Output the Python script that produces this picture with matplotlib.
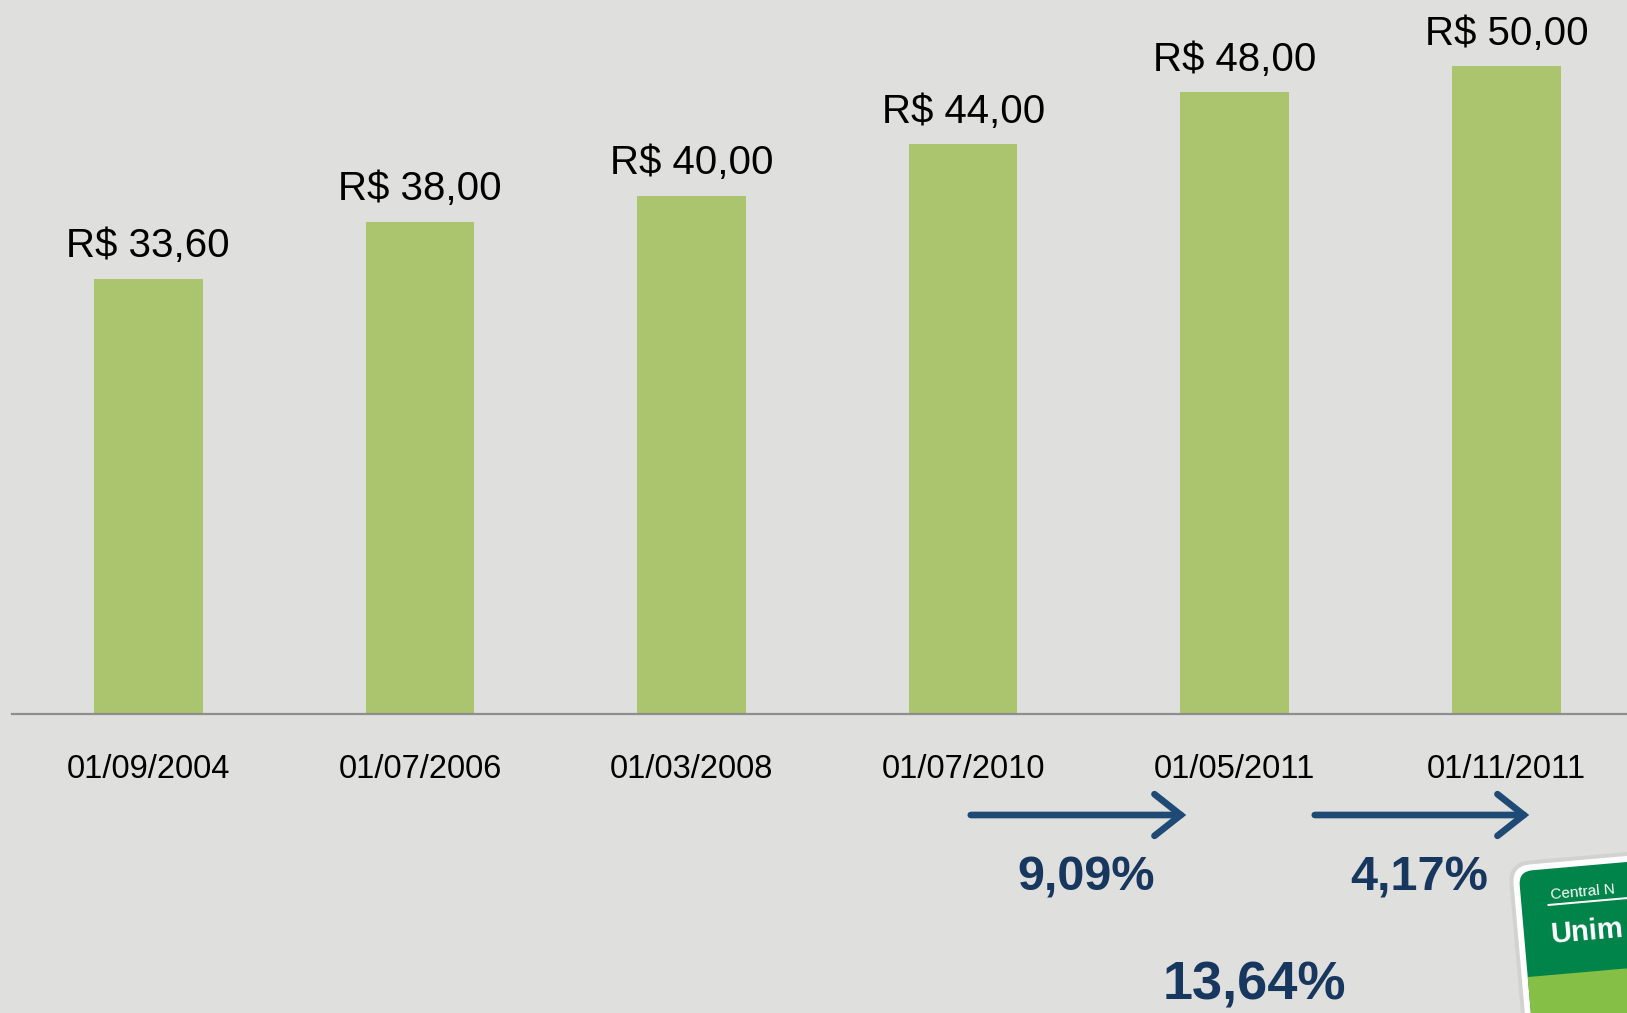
import matplotlib.pyplot as plt
from matplotlib.patches import FancyArrowPatch, FancyBboxPatch, Rectangle
from matplotlib.transforms import Affine2D

plt.rcParams['font.family'] = ['Liberation Sans', 'DejaVu Sans']

# values
dates = ["01/09/2004", "01/07/2006", "01/03/2008", "01/07/2010", "01/05/2011", "01/11/2011"]
prices = [33.60, 38.00, 40.00, 44.00, 48.00, 50.00]
price_labels = ["R$ 33,60", "R$ 38,00", "R$ 40,00", "R$ 44,00", "R$ 48,00", "R$ 50,00"]
step_changes = ["9,09%", "4,17%"]
total_change = "13,64%"

bg = "#dfdfdd"
bar_color = "#abc56e"
navy = "#1f4a75"
navy_text = "#17375e"

W, H = 1627, 1013
fig = plt.figure(figsize=(W / 100, H / 100), dpi=100, facecolor=bg)

ax = fig.add_axes([12.45 / W, (H - 714) / H, 1 - 12.45 / W, 714 / H])
ax.set_facecolor(bg)
x = list(range(len(prices)))
bars = ax.bar(x, prices, width=0.40, color=bar_color, zorder=2)
ax.set_xlim(-0.5, 5.444)
ax.set_ylim(0, 55.13)
for b, lab in zip(bars, price_labels):
    ax.annotate(lab, (b.get_x() + b.get_width() / 2, b.get_height()),
                xytext=(0, 15.5), textcoords="offset points",
                ha="center", va="baseline", fontsize=29, color="black")

ax.set_xticks(x)
ax.set_xticklabels(dates, fontsize=23.5)
ax.tick_params(axis="x", length=0, pad=29)
ax.set_yticks([])
for s in ["top", "right", "left"]:
    ax.spines[s].set_visible(False)
ax.spines["bottom"].set_color("#8e8e8e")
ax.spines["bottom"].set_linewidth(1.6)

# overlay in figure pixels (y up) for arrows, percentages and the logo card
deco = fig.add_axes([0, 0, 1, 1], zorder=5)
deco.set_xlim(0, W)
deco.set_ylim(0, H)
deco.axis("off")
deco.patch.set_visible(False)

arrows = [(968, 1189), (1312, 1532)]
arrow_y = H - 815
for (x0, x1) in arrows:
    deco.add_patch(FancyArrowPatch((x0, arrow_y), (x1, arrow_y),
                                   arrowstyle="->,head_length=0.95,head_width=0.75",
                                   mutation_scale=20, color=navy, lw=4.8,
                                   capstyle="round", joinstyle="miter"))
deco.text(1086, H - 890, step_changes[0], ha="center", va="baseline",
          fontsize=35, fontweight="bold", color=navy_text)
deco.text(1419, H - 890, step_changes[1], ha="center", va="baseline",
          fontsize=35, fontweight="bold", color=navy_text)
deco.text(1254, H - 999, total_change, ha="center", va="baseline",
          fontsize=39, fontweight="bold", color=navy_text)

# tilted logo card in the corner
px, py = 1512, H - 866
rot = Affine2D().rotate_deg_around(px, py, 5) + deco.transData
shadow = FancyBboxPatch((px - 4, py - 404), 416, 408,
                        boxstyle="round,pad=0,rounding_size=22",
                        fc="#c4c4c2", ec="none", alpha=0.45, transform=rot)
card = FancyBboxPatch((px, py - 400), 400, 400,
                      boxstyle="round,pad=0,rounding_size=18",
                      fc="white", ec="none", transform=rot)
green = FancyBboxPatch((px + 6, py - 400), 394, 394,
                       boxstyle="round,pad=0,rounding_size=14",
                       fc="#00844a", ec="none", transform=rot)
light = Rectangle((px + 6, py - 400), 394, 288, fc="#86bf45", ec="none",
                  transform=rot)
underline = Rectangle((px + 32, py - 43), 300, 2, fc="white", ec="none",
                      transform=rot)
for p in [shadow, card, green, light, underline]:
    deco.add_patch(p)

to_screen = Affine2D().rotate_deg_around(px, py, 5)
cx, cy = to_screen.transform((px + 36, py - 36))
deco.text(cx, cy, "Central N", rotation=5, rotation_mode="anchor",
          ha="left", va="baseline", fontsize=11, color="white")
ux, uy = to_screen.transform((px + 32, py - 80))
deco.text(ux, uy, "Unim", rotation=5, rotation_mode="anchor",
          ha="left", va="baseline", fontsize=21, fontweight="heavy",
          color="white")

fig.savefig("out.png", dpi=100, facecolor=bg)
